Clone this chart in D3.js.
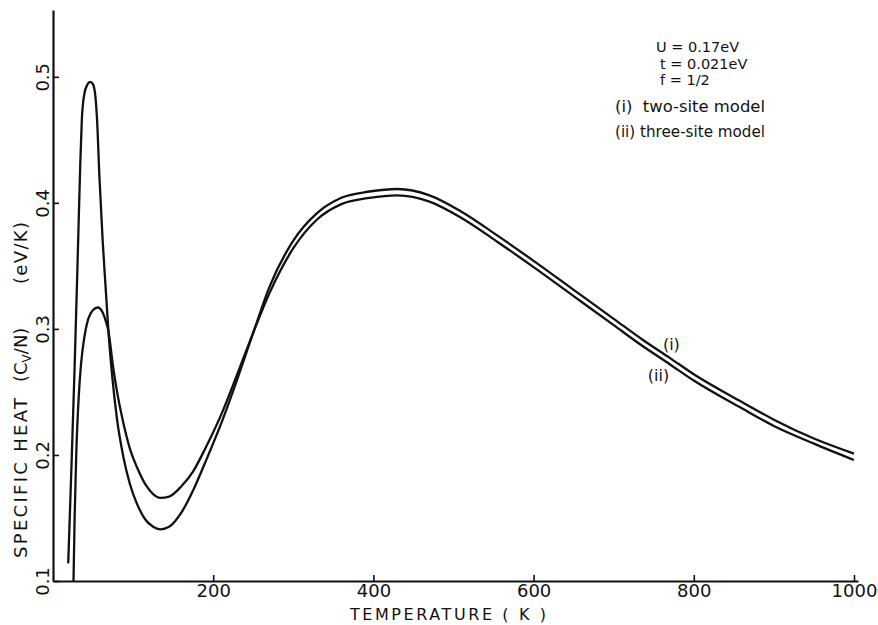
<!DOCTYPE html>
<html>
<head>
<meta charset="utf-8">
<script src="https://cdn.jsdelivr.net/npm/d3@7/dist/d3.min.js"></script>
<style>
  html, body { margin: 0; padding: 0; background: #fff; }
  svg { display: block; }
  text { font-family: "DejaVu Sans", "Liberation Sans", sans-serif; fill: #111; }
</style>
</head>
<body>
<svg id="chart" width="878" height="625"></svg>
<script>
// ---- data ----
const xTicks = [200, 400, 600, 800, 1000];
const yTicks = [0.1, 0.2, 0.3, 0.4, 0.5];
const yTickLabels = ["0.1", "0.2", "0.3", "0.4", "0.5"];

// (i) two-site model
const tempI = [19, 23, 27, 31, 34, 36, 39, 43, 46.5, 50, 53, 55, 58, 62, 66, 69, 74, 80, 88, 96, 105, 115, 125, 134, 145, 160, 175, 190, 210, 230, 250, 270, 300, 330, 360, 395, 430, 470, 510, 555, 600, 650, 700, 737, 770, 800, 860, 900, 950, 1000];
const heatI = [0.114, 0.19, 0.27, 0.36, 0.43, 0.466, 0.486, 0.494, 0.496, 0.494, 0.484, 0.466, 0.42, 0.37, 0.33, 0.30, 0.262, 0.228, 0.198, 0.177, 0.161, 0.149, 0.143, 0.141, 0.143, 0.154, 0.172, 0.194, 0.225, 0.26, 0.297, 0.333, 0.37, 0.392, 0.404, 0.409, 0.411, 0.406, 0.393, 0.374, 0.354, 0.331, 0.308, 0.291, 0.277, 0.264, 0.242, 0.228, 0.213, 0.201];

// (ii) three-site model
const tempII = [25.6, 27, 29, 32, 35, 39, 44, 50, 56, 62, 66, 69, 75, 80, 88, 96, 105, 115, 125, 134, 145, 160, 175, 190, 210, 230, 250, 270, 300, 330, 360, 395, 430, 470, 510, 555, 600, 650, 700, 737, 770, 800, 860, 900, 950, 1000];
const heatII = [0.100, 0.15, 0.2, 0.245, 0.272, 0.293, 0.308, 0.315, 0.317, 0.313, 0.306, 0.299, 0.27, 0.25, 0.225, 0.205, 0.19, 0.177, 0.169, 0.166, 0.167, 0.175, 0.187, 0.205, 0.232, 0.264, 0.297, 0.328, 0.364, 0.387, 0.399, 0.404, 0.406, 0.401, 0.388, 0.369, 0.349, 0.326, 0.303, 0.286, 0.272, 0.259, 0.237, 0.223, 0.209, 0.196];

const paramLines = ["U = 0.17eV", "t = 0.021eV", "f = 1/2"];
const modelLines = ["(i)  two-site model", "(ii) three-site model"];
const curveLabels = ["(i)", "(ii)"];
const yTitleParts = ["SPECIFIC HEAT", "(C", "V", "/N)", "(eV/K)"];
const xTitle = "TEMPERATURE ( K )";

// ---- scales ----
const svg = d3.select("#chart");
const x = d3.scaleLinear().domain([0, 1005]).range([53, 858]);
const y = d3.scaleLinear().domain([0.1, 0.553]).range([581, 10]);
const ink = "#111";

// ---- axes ----
const xAxis = d3.axisBottom(x).tickValues(xTicks).tickSizeInner(-6).tickSizeOuter(0).tickPadding(3).tickFormat(d3.format("d"));
const gx = svg.append("g").attr("transform", `translate(0,${y(0.1)})`).call(xAxis);
gx.select(".domain").attr("stroke", ink).attr("stroke-width", 2.2);
gx.selectAll(".tick line").attr("stroke", ink).attr("stroke-width", 1.6);
gx.selectAll(".tick text").attr("font-size", 18).attr("fill", ink).attr("font-family", "DejaVu Sans");

const yAxis = d3.axisLeft(y).tickValues(yTicks).tickSizeInner(-6).tickSizeOuter(0).tickFormat((d, i) => yTickLabels[i]);
const gy = svg.append("g").attr("transform", `translate(${x(0)},0)`).call(yAxis);
gy.select(".domain").attr("stroke", ink).attr("stroke-width", 2.2);
gy.selectAll(".tick line").attr("stroke", ink).attr("stroke-width", 1.6);
gy.selectAll(".tick text")
  .attr("font-size", 18).attr("fill", ink).attr("font-family", "DejaVu Sans")
  .attr("text-anchor", "middle")
  .attr("x", 0).attr("y", -4).attr("dy", 0)
  .attr("transform", "rotate(-90)");

// y axis title (rotated, reads bottom to top)
const yt = svg.append("g").attr("transform", `translate(27,558) rotate(-90)`).attr("font-size", 18);
yt.append("text").attr("x", 0).attr("y", 0).attr("textLength", 160).attr("lengthAdjust", "spacing").text(yTitleParts[0]);
const cv = yt.append("text").attr("x", 176).attr("y", 0);
cv.append("tspan").text(yTitleParts[1]);
cv.append("tspan").attr("font-size", 12).attr("dy", 4).text(yTitleParts[2]);
cv.append("tspan").attr("dy", -4).text(yTitleParts[3]);
yt.append("text").attr("x", 274).attr("y", 0).attr("textLength", 62).attr("lengthAdjust", "spacing").text(yTitleParts[4]);

svg.append("text")
  .attr("x", x(493)).attr("y", 620)
  .attr("text-anchor", "middle")
  .attr("font-size", 16)
  .attr("textLength", 196).attr("lengthAdjust", "spacing")
  .attr("xml:space", "preserve")
  .text(xTitle);

// ---- curves ----
const line = d3.line().x(d => x(d[0])).y(d => y(d[1])).curve(d3.curveMonotoneX);
const seriesI = tempI.map((t, i) => [t, heatI[i]]);
const seriesII = tempII.map((t, i) => [t, heatII[i]]);
[seriesI, seriesII].forEach(s => {
  svg.append("path").datum(s).attr("d", line)
    .attr("fill", "none").attr("stroke", ink).attr("stroke-width", 2.3)
    .attr("stroke-linejoin", "round");
});

// curve labels
svg.append("text").attr("x", x(772)).attr("y", 350).attr("text-anchor", "middle").attr("font-size", 16).text(curveLabels[0]);
svg.append("text").attr("x", x(756)).attr("y", 381).attr("text-anchor", "middle").attr("font-size", 16).text(curveLabels[1]);

// ---- legend / parameters ----
const legend = svg.append("g");
const paramX = [656, 660, 660];
paramLines.forEach((s, i) => {
  legend.append("text").attr("x", paramX[i]).attr("y", 52 + i * 16.5)
    .attr("font-family", "Liberation Sans").attr("font-size", 14.5)
    .attr("xml:space", "preserve").text(s);
});
modelLines.forEach((s, i) => {
  legend.append("text").attr("x", 615).attr("y", 112 + i * 25).attr("font-size", 16)
    .attr("textLength", 150).attr("lengthAdjust", "spacingAndGlyphs")
    .attr("xml:space", "preserve").text(s);
});
</script>
</body>
</html>
